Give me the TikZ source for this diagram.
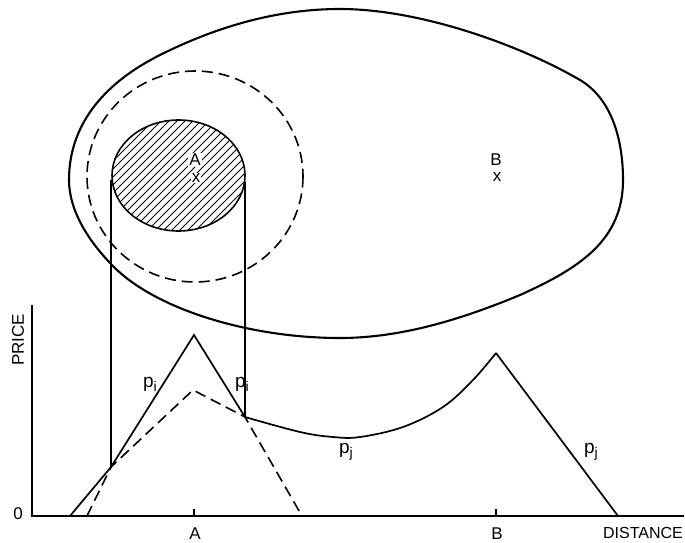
\documentclass[tikz,border=0pt]{standalone}
\usepackage{fontspec}
\setmainfont{Liberation Sans}
\begin{document}
\begin{tikzpicture}[x=1pt,y=-1pt,
  thickcurve/.style={line width=2.1pt,line join=round},
  mainline/.style={line width=1.7pt,line join=miter},
  thinline/.style={line width=1.2pt},
  dashline/.style={line width=1.6pt,dash pattern=on 11pt off 6pt},
  hatchline/.style={line width=0.9pt},
  lbl/.style={font=\fontsize{17}{19}\selectfont,inner sep=0pt},
  ptl/.style={font=\fontsize{19}{21}\selectfont,inner sep=0pt}]
\useasboundingbox (0,0) rectangle (685,543);

% outer market region
\draw[thickcurve] (340,9)
  .. controls (420,9) and (520,45) .. (580,80)
  .. controls (612,99) and (623,140) .. (623,180)
  .. controls (623,240) and (580,268) .. (520,295)
  .. controls (460,320) and (400,338) .. (340,338)
  .. controls (250,338) and (160,310) .. (117,270)
  .. controls (88,242) and (69,210) .. (69,180)
  .. controls (69,120) and (110,80) .. (160,55)
  .. controls (220,25) and (280,9) .. (340,9) -- cycle;

% dashed circle
\draw[dashline] (195,176.5) ellipse (108 and 105.5);

% hatched ellipse
\begin{scope}
  \clip (178.5,175.5) ellipse (66.5 and 55.5);
  \foreach \k in {-22,...,22} {
    \draw[hatchline] ({178.5+\k*8-90},{175.5+90}) -- ++(180,-180);
  }
\end{scope}
\draw[line width=1.6pt] (178.5,175.5) ellipse (66.5 and 55.5);
\node[lbl,fill=white,inner sep=1pt] (lA) at (195,160) {A};
\node[lbl,fill=white,inner sep=1pt] (xA) at (196,178) {x};
\node[lbl] (lB) at (496,160) {B};
\node[lbl] (xB) at (497,177) {x};

% key coordinates in the price diagram
\coordinate (O) at (32,516);
\coordinate (yTop) at (32,305);
\coordinate (xEnd) at (684,516);
\coordinate (sL) at (70,516);
\coordinate (iL) at (111,467);
\coordinate (pA) at (194,335);
\coordinate (iR) at (245,417);
\coordinate (pB) at (496,353);
\coordinate (sR) at (618,516);
\coordinate (dL) at (87,516);
\coordinate (dA) at (193,390);
\coordinate (dR) at (302,516);
\coordinate (eL) at (111,180);
\coordinate (eR) at (245,182);

% vertical projection lines
\draw[thinline] (eL) -- (iL);
\draw[thinline] (eR) -- (iR);

% axes
\draw[mainline] (yTop) -- (O) -- (xEnd);
\draw[thinline] (194,509) -- (194,516);
\draw[thinline] (496,509) -- (496,516);

% price lines
\draw[mainline] (sL) -- (iL) -- (pA) -- (iR);
\draw[mainline] plot[smooth, tension=0.6] coordinates {
  (245,417) (300,432) (333,437) (360,437) (403,427) (443,407) (473,380) (496,353)};
\draw[mainline] (pB) -- (sR);
\draw[dashline] (dL) -- (iL) -- (dA) -- (iR) -- (dR);

% labels
\node[lbl,rotate=90] (price) at (18,340) {PRICE};
\node[lbl] (zero) at (18,514) {0};
\node[lbl] (axA) at (195,534) {A};
\node[lbl] (axB) at (497,534) {B};
\node[lbl,font=\fontsize{16}{18}\selectfont,anchor=east] (dist) at (683,533) {DISTANCE};
\node[ptl] (pi1) at (150,384) {p\raisebox{-4pt}{\fontsize{14}{15}\selectfont i}};
\node[ptl] (pi2) at (242,384) {p\raisebox{-4pt}{\fontsize{14}{15}\selectfont i}};
\node[ptl] (pj1) at (346,452) {p\raisebox{-4pt}{\fontsize{14}{15}\selectfont j}};
\node[ptl] (pj2) at (591,452) {p\raisebox{-4pt}{\fontsize{14}{15}\selectfont j}};
\end{tikzpicture}
\end{document}
